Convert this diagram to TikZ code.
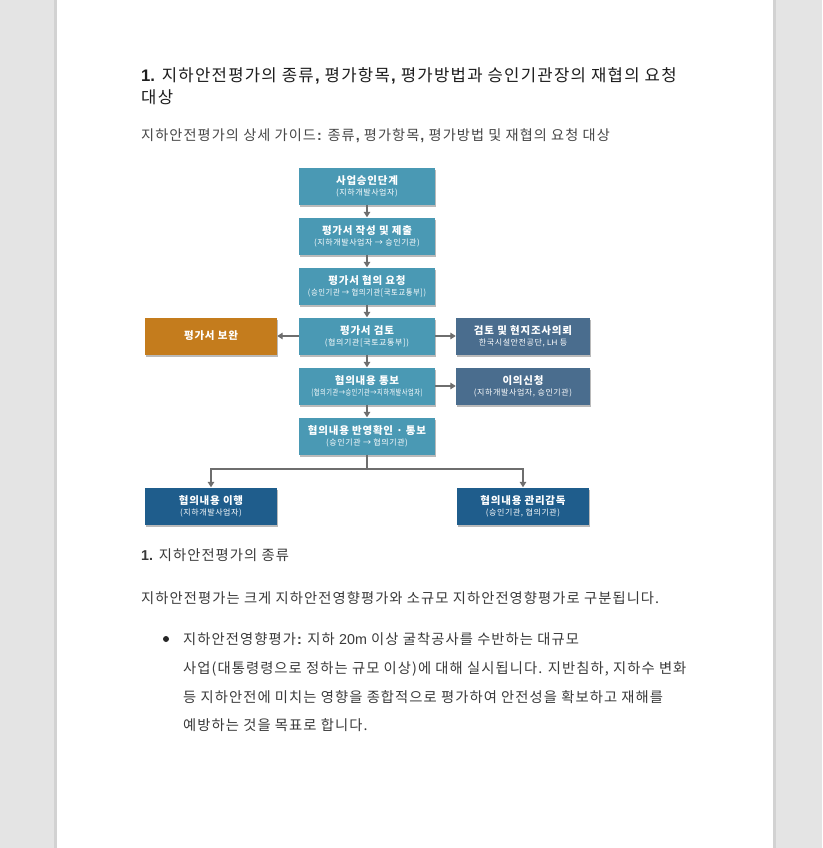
\documentclass[tikz,border=0pt]{standalone}
\usepackage{fontspec}
\setmainfont[LetterSpace=7.5]{Noto Sans CJK KR}
\newfontfamily\latf{Liberation Sans}
\usetikzlibrary{arrows.meta,shadows}
\definecolor{bgc}{HTML}{E4E4E4}
\definecolor{edgec}{HTML}{D2D2D2}
\definecolor{tealc}{HTML}{4A99B4}
\definecolor{orangec}{HTML}{C47C1D}
\definecolor{slatec}{HTML}{4A6D8E}
\definecolor{navyc}{HTML}{1F5D8C}
\definecolor{arrc}{HTML}{6E6E6E}
\definecolor{titc}{HTML}{1E1E1E}
\definecolor{bodyc}{HTML}{3A3A3A}
\begin{document}
\begin{tikzpicture}[x=1pt,y=-1pt,
  box/.style={minimum height=37pt, inner sep=0pt, align=center, text=white,
    drop shadow={shadow xshift=1.2pt, shadow yshift=-2pt, fill=black!45, opacity=0.6}},
  cbox/.style={box, fill=tealc, minimum width=136pt},
  obox/.style={box, fill=orangec, minimum width=132pt},
  sbox/.style={box, fill=slatec, minimum width=134pt},
  nbox/.style={box, fill=navyc, minimum width=132pt},
  bt/.style={font=\fontsize{10.5}{12.5}\selectfont\bfseries},
  arr/.style={draw=arrc, line width=1.7pt, -{Triangle[width=6.5pt,length=5.5pt]}},
  ln/.style={draw=arrc, line width=1.7pt},
  txt/.style={inner sep=0pt, anchor=base west},
  ttl/.style={txt, text=titc, font=\fontsize{16.7}{20}\selectfont},
  bod/.style={txt, text=bodyc, font=\fontsize{14.3}{17}\selectfont}
]
\newcommand{\bh}[2]{{\fontsize{10.5}{12.5}\selectfont\bfseries #1}\\[-1pt]{\fontsize{8}{9.5}\selectfont #2}}
% background and page
\fill[bgc] (0,0) rectangle (822,848);
\fill[edgec] (54,0) rectangle (776,848);
\fill[white] (57,0) rectangle (773,848);
\useasboundingbox (0,0) rectangle (822,848);

% headings and text
\node[ttl] (t1) at (141,82) {\textbf{\latf 1.} 지하안전평가의 종류\textbf{\latf ,} 평가항목\textbf{\latf ,} 평가방법과 승인기관장의 재협의 요청};
\node[ttl] (t2) at (141,103) {대상};
\node[bod, font=\fontsize{14.2}{17}\selectfont, text=black!72] (t3) at (141,140) {지하안전평가의 상세 가이드\textbf{\latf :} 종류\textbf{\latf ,} 평가항목\textbf{\latf ,} 평가방법 및 재협의 요청 대상};

% flowchart
\node[cbox] (b1) at (367,186) {\bh{사업승인단계}{(지하개발사업자)}};
\node[cbox] (b2) at (367,236) {\bh{평가서 작성 및 제출}{(지하개발사업자 → 승인기관)}};
\node[cbox] (b3) at (367,286) {\bh{평가서 협의 요청}{\scalebox{0.92}[1]{(승인기관 → 협의기관[국토교통부])}}};
\node[cbox] (b4) at (367,336) {\bh{평가서 검토}{(협의기관[국토교통부])}};
\node[cbox] (b5) at (367,386) {\bh{협의내용 통보}{\scalebox{0.78}[1]{(협의기관→승인기관→지하개발사업자)}}};
\node[cbox] (b6) at (367,436) {\bh{협의내용 반영확인 · 통보}{(승인기관 → 협의기관)}};
\node[obox, bt] (l1) at (211,336) {평가서 보완};
\node[sbox] (r1) at (523,336) {\bh{검토 및 현지조사의뢰}{한국시설안전공단, {\latf LH} 등}};
\node[sbox] (r2) at (523,386) {\bh{이의신청}{(지하개발사업자, 승인기관)}};
\node[nbox] (d1) at (211,506) {\bh{협의내용 이행}{(지하개발사업자)}};
\node[nbox] (d2) at (523,506) {\bh{협의내용 관리감독}{(승인기관, 협의기관)}};

\draw[arr] (b1.south) -- (b2.north);
\draw[arr] (b2.south) -- (b3.north);
\draw[arr] (b3.south) -- (b4.north);
\draw[arr] (b4.south) -- (b5.north);
\draw[arr] (b5.south) -- (b6.north);
\draw[arr] (b4.west) -- (l1.east);
\draw[arr] (b4.east) -- (r1.west);
\draw[arr] (b5.east) -- (r2.west);
\draw[ln] (b6.south) -- ++(0,14) coordinate (j);
\draw[arr] (j) -| (d1.north);
\draw[arr] (j) -| (d2.north);

% body text
\node[bod] (h2) at (141,560) {\textbf{\latf 1.} 지하안전평가의 종류};
\node[bod] (p1) at (141,603) {지하안전평가는 크게 지하안전영향평가와 소규모 지하안전영향평가로 구분됩니다.};
\fill[black!85] (166,639) circle (3pt);
\node[bod] (l1a) at (183,644) {지하안전영향평가\textbf{\latf :} 지하 {\latf 20m} 이상 굴착공사를 수반하는 대규모};
\node[bod] (l1b) at (183,673) {사업(대통령령으로 정하는 규모 이상)에 대해 실시됩니다. 지반침하, 지하수 변화};
\node[bod] (l1c) at (183,702) {등 지하안전에 미치는 영향을 종합적으로 평가하여 안전성을 확보하고 재해를};
\node[bod] (l1d) at (183,730) {예방하는 것을 목표로 합니다.};
\end{tikzpicture}
\end{document}
